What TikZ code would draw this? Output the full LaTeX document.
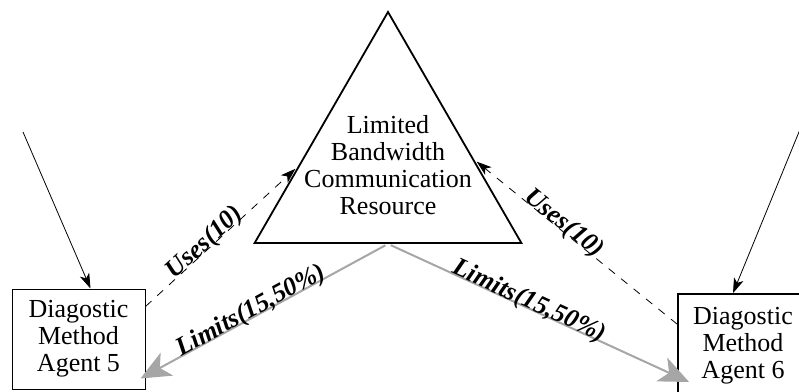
\documentclass[tikz,border=0pt]{standalone}
\usepackage{fontspec}
\setmainfont{Liberation Serif}
\usetikzlibrary{arrows.meta,shapes.geometric,calc}
\tikzset{
    resource/.style = {regular polygon,
                    regular polygon sides=3,
                    draw=black,
                    line width=1.8pt,
                    minimum size=308pt,
                    inner sep=0pt},
    restext/.style = {align=center,
                    text=black,
                    inner sep=0pt,
                    font=\fontsize{26}{27}\selectfont},
    agent/.style =  {rectangle,
                    draw=black,
                    align=center,
                    inner sep=0pt,
                    font=\fontsize{26}{27}\selectfont},
    -,
    feed/.style =   {-{Stealth[length=15pt,width=10pt,inset=4pt]},
                    line width=0.8pt},
    uses/.style =   {-{Stealth[length=15pt,width=10pt,inset=4pt]},
                    line width=0.8pt,
                    dash pattern=on 8pt off 8pt,
                    shorten >=3pt},
    limits/.style = {-{Stealth[length=30pt,width=26pt,inset=8pt]},
                    draw=black!35,
                    line width=2pt,
                    shorten <=3pt},
    lbl/.style =    {sloped,
                    anchor=base,
                    inner sep=0pt,
                    text=black,
                    font=\fontsize{26}{26}\selectfont\bfseries\itshape}}
\begin{document}
\begin{tikzpicture}[x=1pt,y=1pt]
    \useasboundingbox (0,0) rectangle (799,391);
    \clip (0,0) rectangle (799,391);

    \node[resource]     (res)  at (388,225)  {};
    \node[restext]      (rest) at (388,226)  {Limited\\Bandwidth\\Communication\\Resource};
    \node[agent, line width=1pt, minimum width=133pt, minimum height=100pt]
                        (ag5)  at (78.5,52)  {Diagostic\\Method\\Agent 5};
    \node[agent, line width=1.8pt, minimum width=130pt, minimum height=104pt]
                        (ag6)  at (743,45)   {Diagostic\\Method\\Agent 6};

    \coordinate (inL)  at (23,259);
    \coordinate (inR)  at (801,264);
    \coordinate (useL) at ($(res.corner 1)!0.67!(res.corner 2)$);
    \coordinate (useR) at ($(res.corner 1)!0.64!(res.corner 3)$);

    \draw [feed]    (inL) -- ([xshift=12pt]ag5.north);
    \draw [feed]    (inR) -- ([xshift=-10pt]ag6.north);

    \draw [uses]    ([yshift=-18pt]ag5.north east) -- node [lbl, pos=0.42] {Uses(10)} (useL);
    \draw [uses]    ([yshift=-31pt]ag6.north west) -- node [lbl, pos=0.58] {Uses(10)} (useR);

    \draw [limits]  (res.side 2) -- node [lbl, pos=0.54] {Limits(15,50\%)} ([shift={(-5pt,11pt)}]ag5.south east);
    \draw [limits]  (res.side 2) -- node [lbl, pos=0.46] {Limits(15,50\%)} ([shift={(12pt,-36pt)}]ag6.west);
\end{tikzpicture}
\end{document}
